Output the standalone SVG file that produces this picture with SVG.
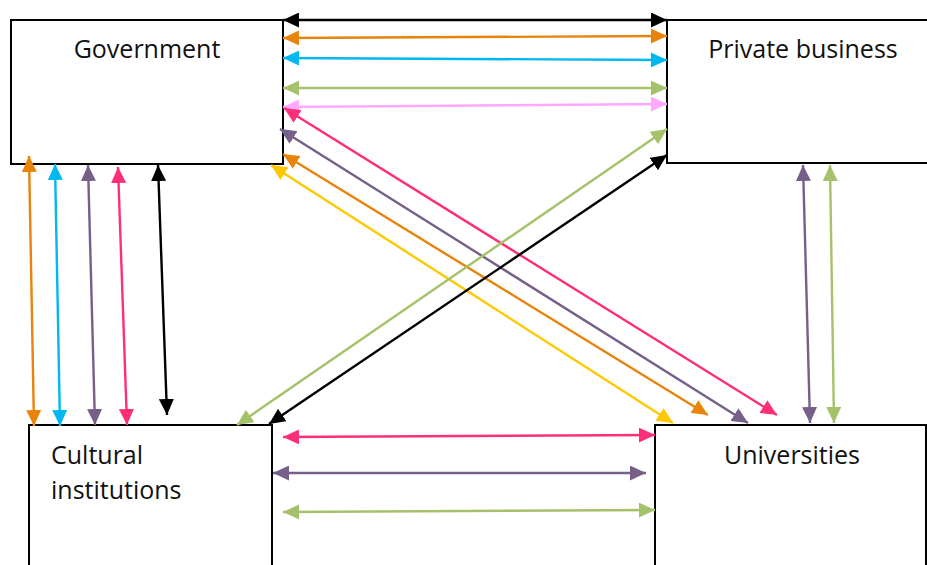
<svg xmlns="http://www.w3.org/2000/svg" width="927" height="565" viewBox="0 0 927 565">
<style>
.box{fill:#fff;stroke:#000;stroke-width:2}
.lbl{font-family:"Open Sans","Liberation Sans",sans-serif;font-size:25px;fill:#111}
.c line{stroke-width:2.4;fill:none}
.k{stroke:#000;marker-start:url(#mk);marker-end:url(#mk)}
.o{stroke:#E8830C;marker-start:url(#mo);marker-end:url(#mo)}
.cy{stroke:#00B8F0;marker-start:url(#mc);marker-end:url(#mc)}
.g{stroke:#A5C26B;marker-start:url(#mg);marker-end:url(#mg)}
.lp{stroke:#FFA8FF;marker-start:url(#ml);marker-end:url(#ml)}
.p{stroke:#FF2E78;marker-start:url(#mp);marker-end:url(#mp)}
.pu{stroke:#76608A;marker-start:url(#mu);marker-end:url(#mu)}
.y{stroke:#FFC800;marker-start:url(#my);marker-end:url(#my)}
</style>
<defs>
<marker id="mk" markerUnits="userSpaceOnUse" markerWidth="16" markerHeight="15" refX="16" refY="7.5" orient="auto-start-reverse"><path d="M0,0 L16,7.5 L0,15 z" fill="#000"/></marker>
<marker id="mo" markerUnits="userSpaceOnUse" markerWidth="16" markerHeight="15" refX="16" refY="7.5" orient="auto-start-reverse"><path d="M0,0 L16,7.5 L0,15 z" fill="#E8830C"/></marker>
<marker id="mc" markerUnits="userSpaceOnUse" markerWidth="16" markerHeight="15" refX="16" refY="7.5" orient="auto-start-reverse"><path d="M0,0 L16,7.5 L0,15 z" fill="#00B8F0"/></marker>
<marker id="mg" markerUnits="userSpaceOnUse" markerWidth="16" markerHeight="15" refX="16" refY="7.5" orient="auto-start-reverse"><path d="M0,0 L16,7.5 L0,15 z" fill="#A5C26B"/></marker>
<marker id="ml" markerUnits="userSpaceOnUse" markerWidth="16" markerHeight="15" refX="16" refY="7.5" orient="auto-start-reverse"><path d="M0,0 L16,7.5 L0,15 z" fill="#FFA8FF"/></marker>
<marker id="mp" markerUnits="userSpaceOnUse" markerWidth="16" markerHeight="15" refX="16" refY="7.5" orient="auto-start-reverse"><path d="M0,0 L16,7.5 L0,15 z" fill="#FF2E78"/></marker>
<marker id="mu" markerUnits="userSpaceOnUse" markerWidth="16" markerHeight="15" refX="16" refY="7.5" orient="auto-start-reverse"><path d="M0,0 L16,7.5 L0,15 z" fill="#76608A"/></marker>
<marker id="my" markerUnits="userSpaceOnUse" markerWidth="16" markerHeight="15" refX="16" refY="7.5" orient="auto-start-reverse"><path d="M0,0 L16,7.5 L0,15 z" fill="#FFC800"/></marker>
</defs>
<rect width="927" height="565" fill="#fff"/>
<g id="government">
<rect class="box" x="11" y="20" width="272" height="144"/>
<text class="lbl" x="147" y="58" text-anchor="middle">Government</text>
</g>
<g id="private-business">
<rect class="box" x="667" y="20" width="280" height="143"/>
<text class="lbl" x="803" y="58" text-anchor="middle">Private business</text>
</g>
<g id="cultural-institutions">
<rect class="box" x="29" y="425" width="243" height="160"/>
<text class="lbl" x="51" y="464">Cultural</text>
<text class="lbl" x="51" y="499">institutions</text>
</g>
<g id="universities">
<rect class="box" x="655" y="425" width="271" height="160"/>
<text class="lbl" x="792" y="464" text-anchor="middle">Universities</text>
</g>
<g id="connectors" class="c">
<line class="k" x1="283" y1="20" x2="667" y2="20"/>
<line class="o" x1="283" y1="38" x2="667" y2="36"/>
<line class="cy" x1="283" y1="58" x2="667" y2="60"/>
<line class="g" x1="283" y1="88" x2="667" y2="88"/>
<line class="lp" x1="283" y1="107" x2="667" y2="104"/>
<line class="p" x1="284" y1="108" x2="777" y2="415"/>
<line class="pu" x1="280" y1="129" x2="748" y2="423"/>
<line class="o" x1="283" y1="154" x2="708" y2="415"/>
<line class="y" x1="271" y1="165" x2="673" y2="423"/>
<line class="g" x1="237" y1="425" x2="667" y2="129"/>
<line class="k" x1="269" y1="424" x2="667" y2="155"/>
<line class="o" x1="29" y1="156" x2="34" y2="426"/>
<line class="cy" x1="55" y1="164" x2="60" y2="426"/>
<line class="pu" x1="88" y1="165" x2="95" y2="425"/>
<line class="p" x1="118" y1="167" x2="127" y2="425"/>
<line class="k" x1="158" y1="165" x2="167" y2="415"/>
<line class="pu" x1="803" y1="165" x2="810" y2="423"/>
<line class="g" x1="830" y1="165" x2="834" y2="423"/>
<line class="p" x1="283" y1="437" x2="655" y2="435"/>
<line class="pu" x1="273" y1="473" x2="646" y2="473"/>
<line class="g" x1="283" y1="512" x2="655" y2="510"/>
</g>
</svg>
